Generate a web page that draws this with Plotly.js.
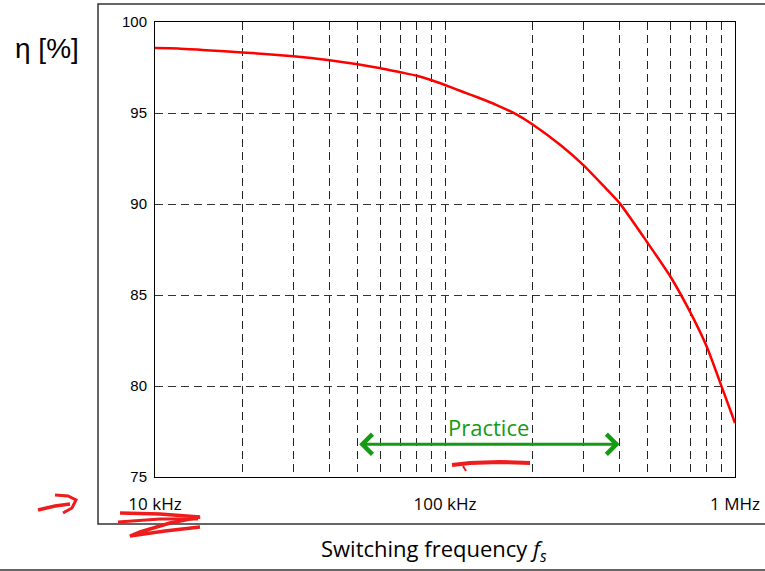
<!DOCTYPE html>
<html>
<head>
<meta charset="utf-8">
<script src="https://cdn.plot.ly/plotly-3.0.1.min.js"></script>
<style>html,body{margin:0;padding:0;background:#fff;}#chart{width:765px;height:571px;}</style>
</head>
<body>
<div id="chart"></div>
<script>
// ---- data ----
const freqKHz = [10, 12, 15, 20, 30, 40, 50, 60, 70, 80, 90, 100, 115, 130, 150, 175, 200, 250, 300, 350, 400, 500, 600, 700, 800, 900, 1000];
const efficiency = [98.57, 98.55, 98.45, 98.33, 98.12, 97.9, 97.68, 97.46, 97.24, 97.05, 96.8, 96.54, 96.17, 95.85, 95.45, 94.95, 94.38, 93.24, 92.14, 91.04, 90.05, 87.86, 85.99, 84.07, 82.14, 79.95, 77.97];
const gridKHz = [10, 20, 30, 40, 50, 60, 70, 80, 90, 100, 200, 300, 400, 500, 600, 700, 800, 900, 1000];
const decadeLabels = {10: '10 kHz', 100: '100 kHz', 1000: '1 MHz'};
const yTicks = [75, 80, 85, 90, 95, 100];
const practiceKHz = [50, 400];
const practiceLevel = 76.8;
const practiceLabel = 'Practice';
const yTitle = 'η [%]';
const xTitle = 'Switching frequency <i>f<sub>s</sub></i>';

// ---- layout helpers (pixel -> paper for decorations) ----
const W = 765, H = 571, ML = 155, MR = 30, MT = 22, MB = 94;
const PW = W - ML - MR, PH = H - MT - MB;
const px = x => (x - ML) / PW;
const py = y => (H - MB - y) / PH;
const pathFrom = pts => pts.map((p, i) => (i ? 'L' : 'M') + px(p[0]).toFixed(4) + ',' + py(p[1]).toFixed(4)).join(' ');

const hz = freqKHz.map(f => f * 1000);
const trace = {
  x: hz, y: efficiency, type: 'scatter', mode: 'lines',
  line: {color: '#ff0000', width: 2.5, shape: 'spline', smoothing: 0.6}, hoverinfo: 'skip', showlegend: false
};

const scribble = (pts, w) => ({type: 'path', xref: 'paper', yref: 'paper', path: pathFrom(pts),
  line: {color: '#ee1c1c', width: w}});

const layout = {
  width: W, height: H,
  margin: {l: ML, r: MR, t: MT, b: MB},
  paper_bgcolor: '#fff', plot_bgcolor: '#fff',
  showlegend: false,
  xaxis: {
    type: 'log', range: [4, 6],
    tickvals: gridKHz.map(f => f * 1000),
    ticktext: gridKHz.map(f => decadeLabels[f] || ''),
    ticks: 'outside', ticklen: 12, tickcolor: 'rgba(0,0,0,0)',
    tickfont: {family: 'Open Sans, sans-serif', size: 17, color: '#000'},
    showgrid: true, gridcolor: '#222', gridwidth: 1, griddash: '8px,5px',
    showline: true, linecolor: '#000', linewidth: 1, mirror: true, zeroline: false
  },
  yaxis: {
    range: [75, 100], tickvals: yTicks,
    ticks: 'outside', ticklen: 4, tickcolor: 'rgba(0,0,0,0)',
    tickfont: {family: 'Liberation Sans, Arial, sans-serif', size: 15, color: '#000'},
    showgrid: true, gridcolor: '#333', gridwidth: 1, griddash: '8px,5px',
    showline: true, linecolor: '#000', linewidth: 1, mirror: true, zeroline: false
  },
  annotations: [
    {x: Math.log10(practiceKHz[1] * 1000), y: practiceLevel, xref: 'x', yref: 'y',
     ax: Math.log10(practiceKHz[0] * 1000), ay: practiceLevel, axref: 'x', ayref: 'y',
     text: '', showarrow: true, arrowside: 'end+start', arrowhead: 4, startarrowhead: 4,
     arrowsize: 1.3, startarrowsize: 1.3, arrowwidth: 3, arrowcolor: '#149a14'},
    {x: Math.log10(Math.sqrt(practiceKHz[0] * practiceKHz[1]) * 1000), y: practiceLevel, xref: 'x', yref: 'y',
     text: practiceLabel, showarrow: false, xanchor: 'center', yanchor: 'bottom', yshift: 0,
     font: {family: 'Open Sans, sans-serif', size: 22, color: '#149a14'}},
    {x: px(47), y: py(48), xref: 'paper', yref: 'paper', xanchor: 'center', yanchor: 'middle',
     text: yTitle, showarrow: false,
     font: {family: 'Liberation Sans, Arial, sans-serif', size: 28, color: '#000'}},
    {x: px(434), y: py(550), xref: 'paper', yref: 'paper', xanchor: 'center', yanchor: 'middle',
     text: xTitle, showarrow: false,
     font: {family: 'Open Sans, sans-serif', size: 22, color: '#000'}}
  ],
  shapes: [
    {type: 'rect', xref: 'paper', yref: 'paper', x0: px(98), x1: px(775), y0: py(524), y1: py(4),
     line: {color: '#333', width: 1.5}},
    {type: 'line', xref: 'paper', yref: 'paper', x0: px(-5), x1: px(775), y0: py(570), y1: py(570),
     line: {color: '#333', width: 1.5}},
    scribble([[38, 510], [55, 506], [70, 504]], 3.5),
    scribble([[55, 495], [68, 496], [76, 500], [72, 508], [63, 513]], 3),
    scribble([[120, 513], [160, 514], [200, 517], [170, 523], [140, 532], [130, 536], [165, 531], [200, 527]], 3.5),
    scribble([[118, 522], [160, 519], [198, 519]], 3),
    scribble([[452, 465], [470, 463], [500, 462], [530, 463]], 4),
    scribble([[463, 466], [466, 471]], 2)
  ]
};

Plotly.newPlot('chart', [trace], layout, {staticPlot: true, displayModeBar: false});
</script>
</body>
</html>
